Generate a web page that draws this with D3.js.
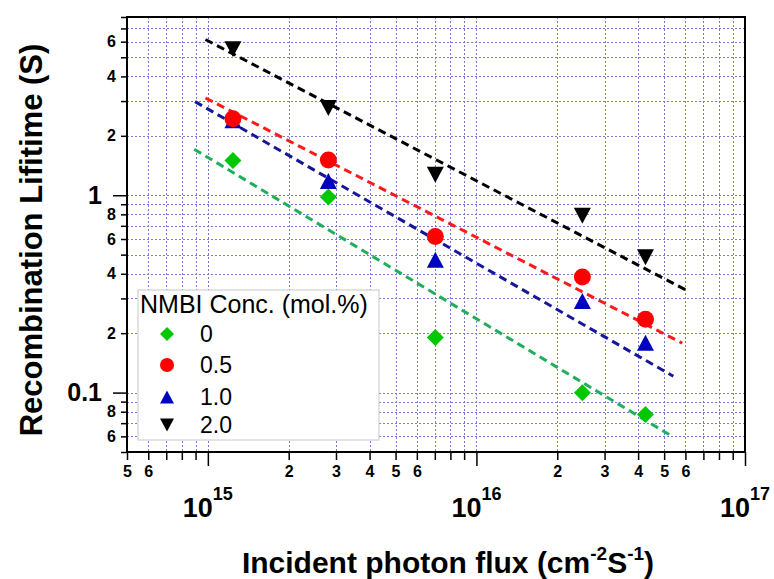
<!DOCTYPE html>
<html>
<head>
<meta charset="utf-8">
<script src="https://cdn.jsdelivr.net/npm/d3@7"></script>
<style>
  body { margin: 0; background: #fff; }
  text { font-family: "Liberation Sans", Arial, sans-serif; }
</style>
</head>
<body>
<div id="chart"></div>
<script>
// data
const flux = [1.24e15, 2.81e15, 7.03e15, 2.48e16, 4.26e16];
const concLabels = ["0", "0.5", "1.0", "2.0"];
const life0 = [1.50, 0.98, 0.19, 0.0997, 0.0775];
const life05 = [2.44, 1.51, 0.618, 0.385, 0.235];
const life10 = [2.40, 1.18, 0.471, 0.291, 0.179];
const life20 = [5.50, 2.77, 1.27, 0.787, 0.485];
// dashed fit lines: start / end points
const fit0 = [[8.9e14, 1.71], [5.24e16, 0.0611]];
const fit05 = [[9.8e14, 3.11], [5.84e16, 0.178]];
const fit10 = [[8.96e14, 2.98], [5.41e16, 0.121]];
const fit20 = [[9.8e14, 6.15], [6.0e16, 0.332]];
// tick labels
const xMinorLabels = [5e14, 6e14, 2e15, 3e15, 4e15, 5e15, 6e15, 2e16, 3e16, 4e16, 5e16, 6e16];
const xDecades = [1e15, 1e16, 1e17];
const xDecadeExp = ["15", "16", "17"];
const yMinorLabels = [0.06, 0.08, 0.2, 0.4, 0.6, 0.8, 2, 4, 6];
const yDecades = [0.1, 1];
const yDecadeText = ["0.1", "1"];

const width = 774, height = 579;
const margin = {left: 127, top: 17, right: 29, bottom: 127};

const series = [
  {label: concLabels[0], values: life0, fit: fit0, shape: "diamond", color: "#00c800", line: "#1fae5c"},
  {label: concLabels[1], values: life05, fit: fit05, shape: "circle", color: "#ff0000", line: "#ff1a1a"},
  {label: concLabels[2], values: life10, fit: fit10, shape: "up", color: "#0000c0", line: "#16169a"},
  {label: concLabels[3], values: life20, fit: fit20, shape: "down", color: "#000000", line: "#000000"}
];
// red is drawn over blue in the original
const drawOrder = [series[0], series[2], series[1], series[3]];

const x = d3.scaleLog().domain([5e14, 1e17]).range([margin.left, width - margin.right]);
const y = d3.scaleLog().domain([0.05, 8]).range([height - margin.bottom, margin.top]);

const same = (a, b) => Math.abs(a / b - 1) < 1e-6;
const inList = (v, list) => list.some(t => same(v, t));

const svg = d3.select("#chart")
  .append("svg")
  .attr("width", width)
  .attr("height", height);

// grid
const xt = x.ticks(), yt = y.ticks();
svg.append("g")
  .attr("stroke", "#7a7ad2")
  .attr("stroke-width", 1)
  .attr("stroke-dasharray", "2,2")
  .attr("shape-rendering", "crispEdges")
  .call(g => g.selectAll(".v")
    .data(xt.filter(d => !same(d, 5e14) && !same(d, 1e17)))
    .join("line")
    .attr("x1", d => Math.round(x(d)) + 0.5).attr("x2", d => Math.round(x(d)) + 0.5)
    .attr("y1", margin.top).attr("y2", height - margin.bottom))
  .call(g => g.selectAll(".h")
    .data(yt.filter(d => !same(d, 0.05) && !same(d, 8)))
    .join("line")
    .attr("y1", d => Math.round(y(d)) + 0.5).attr("y2", d => Math.round(y(d)) + 0.5)
    .attr("x1", margin.left).attr("x2", width - margin.right));

// x axis
const xAxis = svg.append("g")
  .attr("transform", `translate(0,${height - margin.bottom})`)
  .call(d3.axisBottom(x).tickValues(xt).tickSize(8).tickPadding(6)
    .tickFormat(d => inList(d, xMinorLabels) ? d3.format(".0f")(d / Math.pow(10, Math.floor(Math.log10(d) + 1e-9))) : ""));
xAxis.select(".domain").remove();
xAxis.selectAll(".tick line").attr("stroke", "#000").attr("stroke-width", 1.5)
  .filter(d => inList(d, xDecades)).attr("y2", 14);
xAxis.selectAll(".tick text").attr("fill", "#000").attr("font-size", 16).attr("font-weight", "bold");

const xDec = svg.append("g").selectAll("text")
  .data(xDecades)
  .join("text")
  .attr("x", d => x(d))
  .attr("y", 517)
  .attr("text-anchor", "middle")
  .attr("font-weight", "bold")
  .attr("font-size", 27);
xDec.append("tspan").text("10");
xDec.append("tspan").attr("dy", -17).attr("font-size", 18).text((d, i) => xDecadeExp[i]);

// y axis
const yAxis = svg.append("g")
  .attr("transform", `translate(${margin.left},0)`)
  .call(d3.axisLeft(y).tickValues(yt).tickSize(6).tickPadding(5)
    .tickFormat(d => {
      if (inList(d, yMinorLabels)) return d3.format(".0f")(d / Math.pow(10, Math.floor(Math.log10(d) + 1e-9)));
      const k = yDecades.findIndex(t => same(d, t));
      return k >= 0 ? yDecadeText[k] : "";
    }));
yAxis.select(".domain").remove();
yAxis.selectAll(".tick line").attr("stroke", "#000").attr("stroke-width", 1.5)
  .filter(d => inList(d, yDecades)).attr("x2", -14);
yAxis.selectAll(".tick text").attr("fill", "#000").attr("font-size", 16).attr("font-weight", "bold")
  .filter(d => inList(d, yDecades)).attr("font-size", 25).attr("x", -25);

// frame
svg.append("rect")
  .attr("x", margin.left).attr("y", margin.top)
  .attr("width", width - margin.left - margin.right)
  .attr("height", height - margin.top - margin.bottom)
  .attr("fill", "none").attr("stroke", "#000").attr("stroke-width", 2);

// marker shapes, box centred on the point
function shapePath(shape, s) {
  const h = s / 2;
  if (shape === "circle") return d3.symbol(d3.symbolCircle, Math.PI * h * h)();
  if (shape === "diamond") return `M0,${-h}L${h},0L0,${h}L${-h},0Z`;
  const t = h * 0.94;
  if (shape === "up") return `M0,${-t}L${h},${t}L${-h},${t}Z`;
  return `M0,${t}L${h},${-t}L${-h},${-t}Z`;
}

// fit lines
const line = d3.line().x(d => x(d[0])).y(d => y(d[1]));
svg.append("g")
  .selectAll("path")
  .data(series)
  .join("path")
  .attr("d", d => line(d.fit))
  .attr("fill", "none")
  .attr("stroke", d => d.line)
  .attr("stroke-width", 3)
  .attr("stroke-dasharray", "8,5");

// points
svg.append("g")
  .selectAll("g")
  .data(drawOrder)
  .join("g")
  .attr("fill", d => d.color)
  .selectAll("path")
  .data(d => d.values.map((v, i) => ({x: flux[i], y: v, shape: d.shape})))
  .join("path")
  .attr("transform", d => `translate(${x(d.x)},${y(d.y)})`)
  .attr("d", d => shapePath(d.shape, 17));

// legend
const legend = svg.append("g").attr("transform", "translate(138,290)");
legend.append("rect")
  .attr("width", 241).attr("height", 150)
  .attr("fill", "#fff").attr("stroke", "#c8c8c8").attr("stroke-width", 1);
legend.append("text")
  .attr("x", 2).attr("y", 23)
  .attr("font-size", 25)
  .text("NMBI Conc. (mol.%)");
const item = legend.selectAll(".item")
  .data(series)
  .join("g")
  .attr("transform", (d, i) => `translate(29,${[44, 75, 107, 135][i]})`);
item.append("path")
  .attr("d", d => shapePath(d.shape, 14))
  .attr("fill", d => d.color);
item.append("text")
  .attr("x", 33).attr("y", 8)
  .attr("font-size", 23)
  .text(d => d.label);

// axis titles
const xTitle = svg.append("text")
  .attr("x", 448).attr("y", 573)
  .attr("text-anchor", "middle")
  .attr("font-weight", "bold")
  .attr("font-size", 30);
xTitle.append("tspan").text("Incident photon flux (cm");
xTitle.append("tspan").attr("dy", -13).attr("font-size", 19).text("-2");
xTitle.append("tspan").attr("dy", 13).text("S");
xTitle.append("tspan").attr("dy", -13).attr("font-size", 19).text("-1");
xTitle.append("tspan").attr("dy", 13).text(")");

svg.append("text")
  .attr("transform", "translate(42,240) rotate(-90)")
  .attr("text-anchor", "middle")
  .attr("font-weight", "bold")
  .attr("font-size", 31)
  .text("Recombination Lifitime (S)");
</script>
</body>
</html>
